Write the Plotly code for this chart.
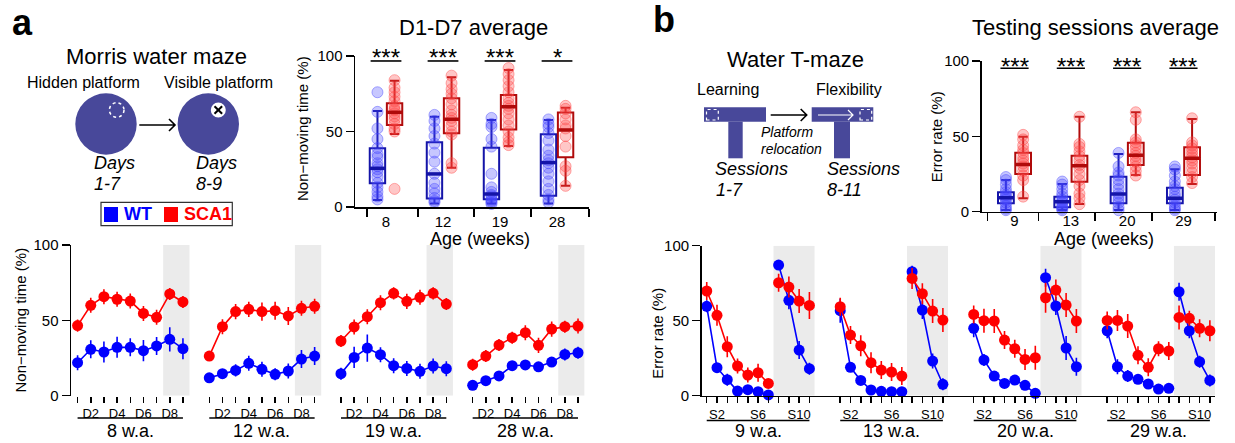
import plotly.graph_objects as go

W, H = 1235, 443
FONT = "Liberation Sans, Arial, sans-serif"

# ---------------- DATA ----------------
# Panel a (bottom): Morris water maze, non-moving time (%) per day D1..D9
mwm_ages = ["8 w.a.", "12 w.a.", "19 w.a.", "28 w.a."]
mwm_days = [1, 2, 3, 4, 5, 6, 7, 8, 9]
mwm_sca1 = [
    [46.5, 60, 65.7, 64, 62.8, 54.6, 52, 67.5, 62.2],
    [26.3, 45.8, 55.8, 57.3, 55.8, 56.4, 52.9, 58, 59.3],
    [36.3, 45.6, 52.4, 61.7, 67.9, 62.6, 65.3, 67.9, 60.8],
    [20.6, 26.3, 33.6, 38.5, 41.8, 33.4, 44.2, 45.8, 46.2],
]
mwm_sca1_err = [
    [4, 5, 5, 5, 5, 5, 5, 4, 4],
    [3, 5, 5, 5, 6, 6, 6, 5, 5],
    [4, 5, 5, 5, 4, 5, 5, 4, 4],
    [4, 4, 4, 4, 5, 5, 5, 4, 5],
]
mwm_wt = [
    [21.9, 30.8, 29, 32.1, 32.1, 29.9, 33, 37.4, 31.2],
    [11.9, 14.6, 16.8, 21.5, 17.5, 14.2, 16.4, 24.3, 26.3],
    [14.6, 25.4, 31.6, 27.2, 19.9, 18.1, 16.2, 19.7, 17.9],
    [6.9, 10, 13.1, 19.9, 20.4, 19.2, 22.3, 27.4, 28.5],
]
mwm_wt_err = [
    [5, 6, 7, 7, 6, 7, 6, 8, 7],
    [3, 3, 4, 5, 5, 4, 5, 6, 6],
    [4, 7, 9, 5, 5, 5, 5, 5, 5],
    [2, 3, 3, 3, 3, 3, 3, 4, 4],
]

# Panel a (top): D1-D7 average per animal
avg_ages_a = ["8", "12", "19", "28"]
sig_a = ["***", "***", "***", "*"]
wt_pts_a = [
    [76, 63, 52, 45, 39, 35, 33, 29, 27, 25, 23, 20, 16, 13, 10, 7, 5],
    [61, 57, 52, 47, 42, 36, 30, 22, 16, 12, 9, 6, 4, 3],
    [59, 55, 53, 45, 40, 22, 13, 10, 8, 7, 5, 4, 3, 2],
    [58, 55, 53, 49, 44, 38, 34, 31, 29, 26, 22, 17, 12, 8, 5, 3],
]
sca1_pts_a = [
    [84, 79, 76, 73, 70, 67, 65, 64, 62, 60, 58, 55, 52, 50, 12],
    [87, 82, 78, 75, 72, 68, 64, 61, 59, 57, 54, 50, 48, 29, 26],
    [92, 88, 84, 80, 76, 72, 69, 67, 65, 62, 58, 54, 50, 46, 43, 41],
    [67, 65, 62, 58, 54, 52, 47, 40, 27, 24, 14],
]
wt_q1_a = [15.7, 5.7, 5.1, 7.5]
wt_med_a = [25.6, 21.9, 8.6, 29.4]
wt_q3_a = [38.9, 42.8, 39.3, 48.1]
wt_lo_a = [4.6, 2.4, 2.4, 2.4]
wt_hi_a = [63.6, 59.8, 57.6, 57.6]
sca1_q1_a = [54.3, 48.8, 51.4, 32.9]
sca1_med_a = [62.7, 58.1, 66.4, 51]
sca1_q3_a = [68.7, 72, 74.2, 62.5]
sca1_lo_a = [48.3, 26, 40.4, 14.1]
sca1_hi_a = [83.6, 85.9, 90.7, 65.8]

# Panel b (bottom): Water T-maze error rate (%) per session S1..S11
wtm_ages = ["9 w.a.", "13 w.a.", "20 w.a.", "29 w.a."]
wtm_sessions = [1, 2, 3, 4, 5, 6, 7, 8, 9, 10, 11]
wtm_sca1 = [
    [69.8, 53.6, 32.7, 19.8, 13.8, 15.3, 8.2, 75.3, 72.4, 63.1, 60.2],
    [59.3, 40.4, 33.3, 22, 17.1, 15.8, 13.1, 78.2, 68, 56.4, 50.4],
    [54.2, 50, 49.8, 37.1, 31.3, 24.2, 25.3, 65.3, 70.4, 60.4, 49.8],
    [50.2, 50.2, 46.4, 26.9, 18.9, 31.3, 29.8, 52.2, 51.6, 44.9, 43.3],
]
wtm_sca1_err = [
    [6, 7, 7, 5, 5, 6, 3, 6, 7, 8, 9],
    [6, 6, 7, 7, 6, 6, 6, 7, 7, 8, 8],
    [6, 8, 8, 6, 6, 7, 8, 10, 7, 8, 8],
    [6, 7, 8, 6, 6, 5, 6, 8, 5, 6, 7],
]
wtm_wt = [
    [59.6, 18.7, 10.7, 3.1, 4, 2.7, 0.5, 87.1, 63.6, 30.4, 18],
    [56.7, 18.9, 10.2, 3.8, 2.9, 2.7, 2.7, 82.7, 57.1, 23.1, 7.6],
    [44.9, 23.8, 13.1, 8.2, 10.4, 6.9, 1.6, 78.7, 59.8, 31.8, 19.3],
    [43.3, 19.3, 13.1, 10.9, 7.8, 4.4, 4.9, 69.3, 43.3, 22.7, 10.2],
]
wtm_wt_err = [
    [4, 3, 4, 2, 2, 2, 1, 3, 6, 6, 4],
    [8, 3, 3, 2, 2, 2, 2, 4, 6, 5, 4],
    [6, 4, 3, 2, 3, 3, 2, 6, 6, 8, 6],
    [5, 5, 4, 3, 3, 2, 2, 6, 5, 4, 4],
]

# Panel b (top): testing sessions average per animal
avg_ages_b = ["9", "13", "20", "29"]
sig_b = ["***", "***", "***", "***"]
wt_pts_b = [
    [23, 21, 18, 15, 13, 11, 10, 9, 8, 6, 4, 2, 1],
    [20, 18, 15, 12, 10, 8, 7, 6, 4, 3, 2, 1],
    [39, 30, 26, 24, 21, 18, 15, 12, 10, 8, 6, 3, 1],
    [30, 28, 24, 20, 17, 15, 12, 10, 8, 6, 4, 2, 1],
]
sca1_pts_b = [
    [51, 48, 44, 41, 39, 36, 34, 32, 30, 27, 24, 21, 10],
    [63, 45, 43, 40, 37, 34, 31, 29, 25, 21, 17, 12, 9, 5],
    [66, 61, 48, 46, 44, 42, 39, 37, 35, 33, 30, 27, 24],
    [62, 46, 44, 42, 40, 38, 36, 34, 32, 29, 26, 23, 19],
]
wt_q1_b = [5.6, 2.9, 5.6, 5.6]
wt_med_b = [9.3, 6.6, 11.7, 8.9]
wt_q3_b = [12.9, 10, 23.2, 15.9]
wt_lo_b = [1.1, 1.1, 1.1, 1.1]
wt_hi_b = [21, 18.4, 38.3, 28.1]
sca1_q1_b = [25, 19.9, 31, 24.4]
sca1_med_b = [31.4, 30.5, 37.4, 35.4]
sca1_q3_b = [39.2, 37.2, 45.8, 42.7]
sca1_lo_b = [8.9, 5.1, 24.4, 18.4]
sca1_hi_b = [49.8, 63, 66, 61.5]

# ---------------- STYLE ----------------
RED, BLUE = "#FF0000", "#0000FF"
WT_BOX, SCA1_BOX = "#1414A8", "#B00A0A"
WT_PT, SCA1_PT = "rgba(70,70,255,0.30)", "rgba(255,70,70,0.30)"
WT_PT_L, SCA1_PT_L = "rgba(70,70,255,0.45)", "rgba(255,70,70,0.45)"
SCHEM = "#48489A"
SHADE = "#EBEBEB"


def px(x):
    return x / W


def py(y):
    return 1 - y / H


fig = go.Figure()
shapes = []
annots = []


def txt(x, y, s, size, anchor="center", color="black", angle=0):
    annots.append(dict(x=px(x), y=py(y), xref="paper", yref="paper", text=s,
                       showarrow=False, xanchor=anchor, yanchor="middle",
                       textangle=angle,
                       font=dict(size=size, color=color, family=FONT)))


# ---------- line charts ----------
def line_panel(vals, errs, xs_fn, breaks, color, xa, ya):
    xs, ys, es = [], [], []
    for g, row in enumerate(vals):
        for i, v in enumerate(row):
            xs.append(xs_fn(g, i))
            ys.append(v)
            es.append(errs[g][i])
            if i in breaks or i == len(row) - 1:
                xs.append(None)
                ys.append(None)
                es.append(None)
    fig.add_trace(go.Scatter(
        x=xs, y=ys, mode="lines+markers", xaxis=xa, yaxis=ya,
        line=dict(color=color, width=1.6), connectgaps=False,
        marker=dict(color=color, size=11),
        error_y=dict(type="data", array=es, color=color, thickness=1.6, width=0),
        showlegend=False, cliponaxis=False))


def xa_fn(g, i):
    return g * 10 + mwm_days[i]


def xb_fn(g, i):
    return g * 13 + wtm_sessions[i]


line_panel(mwm_wt, mwm_wt_err, xa_fn, [], BLUE, "x2", "y2")
line_panel(mwm_sca1, mwm_sca1_err, xa_fn, [], RED, "x2", "y2")
line_panel(wtm_wt, wtm_wt_err, xb_fn, [6], BLUE, "x4", "y4")
line_panel(wtm_sca1, wtm_sca1_err, xb_fn, [6], RED, "x4", "y4")

for g in range(4):
    shapes.append(dict(type="rect", xref="x2", yref="y2", x0=g * 10 + 7.5, x1=g * 10 + 9.5,
                       y0=0, y1=100, fillcolor=SHADE, line=dict(width=0), layer="below"))
    shapes.append(dict(type="rect", xref="x4", yref="y4", x0=g * 13 + 7.5, x1=g * 13 + 11.5,
                       y0=0, y1=100, fillcolor=SHADE, line=dict(width=0), layer="below"))
    shapes.append(dict(type="line", xref="x2", yref="paper", x0=g * 10 + 1, x1=g * 10 + 9,
                       y0=py(418), y1=py(418), line=dict(color="black", width=1.5)))
    shapes.append(dict(type="line", xref="x4", yref="paper", x0=g * 13 + 1, x1=g * 13 + 11,
                       y0=py(420.5), y1=py(420.5), line=dict(color="black", width=1.5)))
    annots.append(dict(x=g * 10 + 5, y=py(431), xref="x2", yref="paper", text=mwm_ages[g],
                       showarrow=False, xanchor="center", yanchor="middle",
                       font=dict(size=18, family=FONT, color="black")))
    annots.append(dict(x=g * 13 + 6, y=py(431), xref="x4", yref="paper", text=wtm_ages[g],
                       showarrow=False, xanchor="center", yanchor="middle",
                       font=dict(size=18, family=FONT, color="black")))

# ---------- box plots ----------
def box_panel(pts, q1, med, q3, lo, hi, off, width, color, ptc, ptl, xa, ya):
    xs, ys = [], []
    for g, row in enumerate(pts):
        for v in row:
            xs.append(g + off)
            ys.append(v)
    fig.add_trace(go.Scatter(x=xs, y=ys, mode="markers", xaxis=xa, yaxis=ya,
                             marker=dict(size=11, color=ptc, line=dict(color=ptl, width=1)),
                             showlegend=False, cliponaxis=False))
    pos = [g + off for g in range(len(q1))]
    fig.add_trace(go.Box(x=pos, q1=q1, median=med, q3=q3, lowerfence=lo, upperfence=hi,
                         width=width, whiskerwidth=0.6, boxpoints=False, xaxis=xa, yaxis=ya,
                         line=dict(color=color, width=2), fillcolor="rgba(0,0,0,0)",
                         showlegend=False))
    mx, my = [], []
    for p, m in zip(pos, med):
        mx += [p - width / 2, p + width / 2, None]
        my += [m, m, None]
    fig.add_trace(go.Scatter(x=mx, y=my, mode="lines", xaxis=xa, yaxis=ya,
                             line=dict(color=color, width=3.5), showlegend=False))


box_panel(wt_pts_a, wt_q1_a, wt_med_a, wt_q3_a, wt_lo_a, wt_hi_a, -0.15, 0.27,
          WT_BOX, WT_PT, WT_PT_L, "x", "y")
box_panel(sca1_pts_a, sca1_q1_a, sca1_med_a, sca1_q3_a, sca1_lo_a, sca1_hi_a, 0.15, 0.27,
          SCA1_BOX, SCA1_PT, SCA1_PT_L, "x", "y")
box_panel(wt_pts_b, wt_q1_b, wt_med_b, wt_q3_b, wt_lo_b, wt_hi_b, -0.153, 0.28,
          WT_BOX, WT_PT, WT_PT_L, "x3", "y3")
box_panel(sca1_pts_b, sca1_q1_b, sca1_med_b, sca1_q3_b, sca1_lo_b, sca1_hi_b, 0.153, 0.28,
          SCA1_BOX, SCA1_PT, SCA1_PT_L, "x3", "y3")

for g in range(4):
    shapes.append(dict(type="line", xref="x", yref="y", x0=g - 0.27, x1=g + 0.27,
                       y0=96.7, y1=96.7, line=dict(color="black", width=1.6)))
    annots.append(dict(x=g, y=py(57.5), xref="x", yref="paper", text=sig_a[g], showarrow=False,
                       xanchor="center", yanchor="middle",
                       font=dict(size=24, family=FONT, color="black")))
    shapes.append(dict(type="line", xref="x3", yref="y3", x0=g - 0.25, x1=g + 0.25,
                       y0=95.2, y1=95.2, line=dict(color="black", width=1.6)))
    annots.append(dict(x=g, y=py(66.5), xref="x3", yref="paper", text=sig_b[g], showarrow=False,
                       xanchor="center", yanchor="middle",
                       font=dict(size=24, family=FONT, color="black")))

# ---------- axes ----------
yax = dict(range=[0, 100], tickvals=[0, 50, 100], ticks="outside", ticklen=8, tickwidth=1.5,
           showline=True, linewidth=1.5, linecolor="black", tickcolor="black",
           showgrid=False, zeroline=False, tickfont=dict(size=15, family=FONT, color="black"),
           fixedrange=True, automargin=False)


def xbox(dom, rng, tick_minor, labels, standoff):
    return dict(domain=dom, range=rng, tickvals=list(range(len(labels))), ticktext=labels,
                ticks="", ticklen=0, ticklabelstandoff=standoff,
                minor=dict(tickvals=tick_minor, ticks="outside", ticklen=8, tickwidth=1.5,
                           tickcolor="black", showgrid=False),
                showline=True, linewidth=1.5, linecolor="black", showgrid=False, zeroline=False,
                tickfont=dict(size=15, family=FONT, color="black"), automargin=False,
                fixedrange=True)


lab_set = {"D": (2, 4, 6, 8), "S": (2, 6, 10)}


def xline(dom, rng, n_groups, period, items, lab, showline):
    tv, tt = [], []
    for g in range(n_groups):
        for d in items:
            tv.append(g * period + d)
            tt.append(f"{lab}{d}" if d in lab_set[lab] else "")
    return dict(domain=dom, range=rng, tickvals=tv, ticktext=tt, ticks="outside", ticklen=6,
                tickwidth=1.5, tickcolor="black", showline=showline, linewidth=1.5,
                linecolor="black", showgrid=False, zeroline=False, tickangle=0,
                tickfont=dict(size=13, family=FONT, color="black"), automargin=False,
                fixedrange=True)


fig.update_layout(
    width=W, height=H, margin=dict(l=0, r=0, t=0, b=0, pad=0), autosize=False,
    paper_bgcolor="white", plot_bgcolor="white", showlegend=False,
    font=dict(family=FONT, color="black"),
    xaxis=dict(anchor="y", **xbox([px(355), px(589)], [-0.544, 3.561],
                                  [-0.333, 0.561, 1.544, 2.544, 3.561], avg_ages_a, 0)),
    yaxis=dict(anchor="x", domain=[py(207), py(56)], **yax),
    xaxis2=dict(anchor="y2", **xline([px(71), px(584.6)], [0.5, 39.5], 4, 10, mwm_days, "D", False)),
    yaxis2=dict(anchor="x2", domain=[py(395.7), py(245)], **yax),
    xaxis3=dict(anchor="y3", **xbox([px(981.7), px(1216.7)], [-0.583, 3.59],
                                    [-0.483, 0.423, 1.43, 2.437, 3.56], avg_ages_b, -5)),
    yaxis3=dict(anchor="x3", domain=[py(211.7), py(61)], **yax),
    xaxis4=dict(anchor="y4", **xline([px(701.6), px(1215)], [0.5, 50.5], 4, 13, wtm_sessions, "S", True)),
    yaxis4=dict(anchor="x4", domain=[py(395.7), py(245.7)], **yax),
)

# ---------- texts ----------
txt(22, 22, "<b>a</b>", 36)
txt(664, 20, "<b>b</b>", 36)
txt(156.7, 57, "Morris water maze", 22)
txt(83.3, 82, "Hidden platform", 16)
txt(218.5, 82, "Visible platform", 16)
txt(91.5, 162.5, "<i>Days</i>", 18, anchor="left")
txt(91.5, 184, "<i>1-7</i>", 18, anchor="left")
txt(194, 162.5, "<i>Days</i>", 18, anchor="left")
txt(194, 184, "<i>8-9</i>", 18, anchor="left")
txt(473.5, 27.6, "D1-D7 average", 22)
txt(480, 239, "Age (weeks)", 18)
txt(302, 129, "Non−moving time (%)", 15, angle=-90)
txt(19.5, 320, "Non−moving time (%)", 15, angle=-90)

txt(795, 59.3, "Water T-maze", 22)
txt(728, 89, "Learning", 16)
txt(848.7, 89, "Flexibility", 16)
txt(787, 132, "<i>Platform</i>", 14)
txt(791.7, 148.8, "<i>relocation</i>", 14)
txt(713.3, 169, "<i>Sessions</i>", 18, anchor="left")
txt(714, 190, "<i>1-7</i>", 18, anchor="left")
txt(825, 169, "<i>Sessions</i>", 18, anchor="left")
txt(825, 190, "<i>8-11</i>", 18, anchor="left")
txt(1095, 27.6, "Testing sessions average", 22)
txt(1104, 239, "Age (weeks)", 18)
txt(936.7, 136.5, "Error rate (%)", 15, angle=-90)
txt(656.7, 333, "Error rate (%)", 15, angle=-90)

# legend
txt(121.7, 214, "<b>WT</b>", 18, anchor="left", color=BLUE)
txt(181.7, 214, "<b>SCA1</b>", 18, anchor="left", color=RED)


# ---------- schematic shapes ----------
def prect(x0, y0, x1, y1, fill, line=None):
    d = dict(type="rect", xref="paper", yref="paper", x0=px(x0), x1=px(x1), y0=py(y1), y1=py(y0),
             fillcolor=fill, line=line or dict(width=0))
    shapes.append(d)


def pcircle(cx, cy, r, fill, line=None):
    shapes.append(dict(type="circle", xref="paper", yref="paper", x0=px(cx - r), x1=px(cx + r),
                       y0=py(cy + r), y1=py(cy - r), fillcolor=fill, line=line or dict(width=0)))


def parrow(x0, x1, y, color, width=1.6, head=6):
    path = (f"M {px(x0)},{py(y)} L {px(x1)},{py(y)} "
            f"M {px(x1 - head)},{py(y - head)} L {px(x1)},{py(y)} L {px(x1 - head)},{py(y + head)}")
    shapes.append(dict(type="path", xref="paper", yref="paper", path=path,
                       line=dict(color=color, width=width)))


pcircle(106, 124, 30.7, SCHEM)
pcircle(116.7, 110, 7.3, "rgba(0,0,0,0)", dict(color="white", width=1.5, dash="dot"))
pcircle(208.3, 124, 30.7, SCHEM)
pcircle(218.3, 110, 7.5, "white")
shapes.append(dict(type="line", xref="paper", yref="paper", x0=px(214.5), x1=px(222.1),
                   y0=py(106.2), y1=py(113.8), line=dict(color="black", width=2)))
shapes.append(dict(type="line", xref="paper", yref="paper", x0=px(214.5), x1=px(222.1),
                   y0=py(113.8), y1=py(106.2), line=dict(color="black", width=2)))
parrow(139.3, 175, 125, "black")

# legend box
prect(101, 202.3, 232.3, 225.7, "rgba(0,0,0,0)", dict(color="#333333", width=1.2))
prect(104, 207, 118, 222, BLUE)
prect(164, 207, 178, 222, RED)

# T-mazes
prect(704, 107.3, 766, 121.7, SCHEM)
prect(728.3, 121.7, 742.7, 158.3, SCHEM)
prect(706.5, 109.5, 718.3, 120, "rgba(0,0,0,0)", dict(color="white", width=1.2, dash="dot"))
parrow(770.7, 806.7, 115, "black")
prect(811.7, 107.3, 873.3, 121.7, SCHEM)
prect(834, 121.7, 850, 158.3, SCHEM)
prect(860, 109.5, 871.7, 120, "rgba(0,0,0,0)", dict(color="white", width=1.2, dash="dot"))
parrow(818, 853, 115, "white", width=1.2, head=5)

fig.update_layout(shapes=shapes, annotations=annots)
fig.write_html("out.html", config={"displayModeBar": False, "staticPlot": True},
               post_script="document.body.style.margin='0px';document.body.style.overflow='hidden';")
